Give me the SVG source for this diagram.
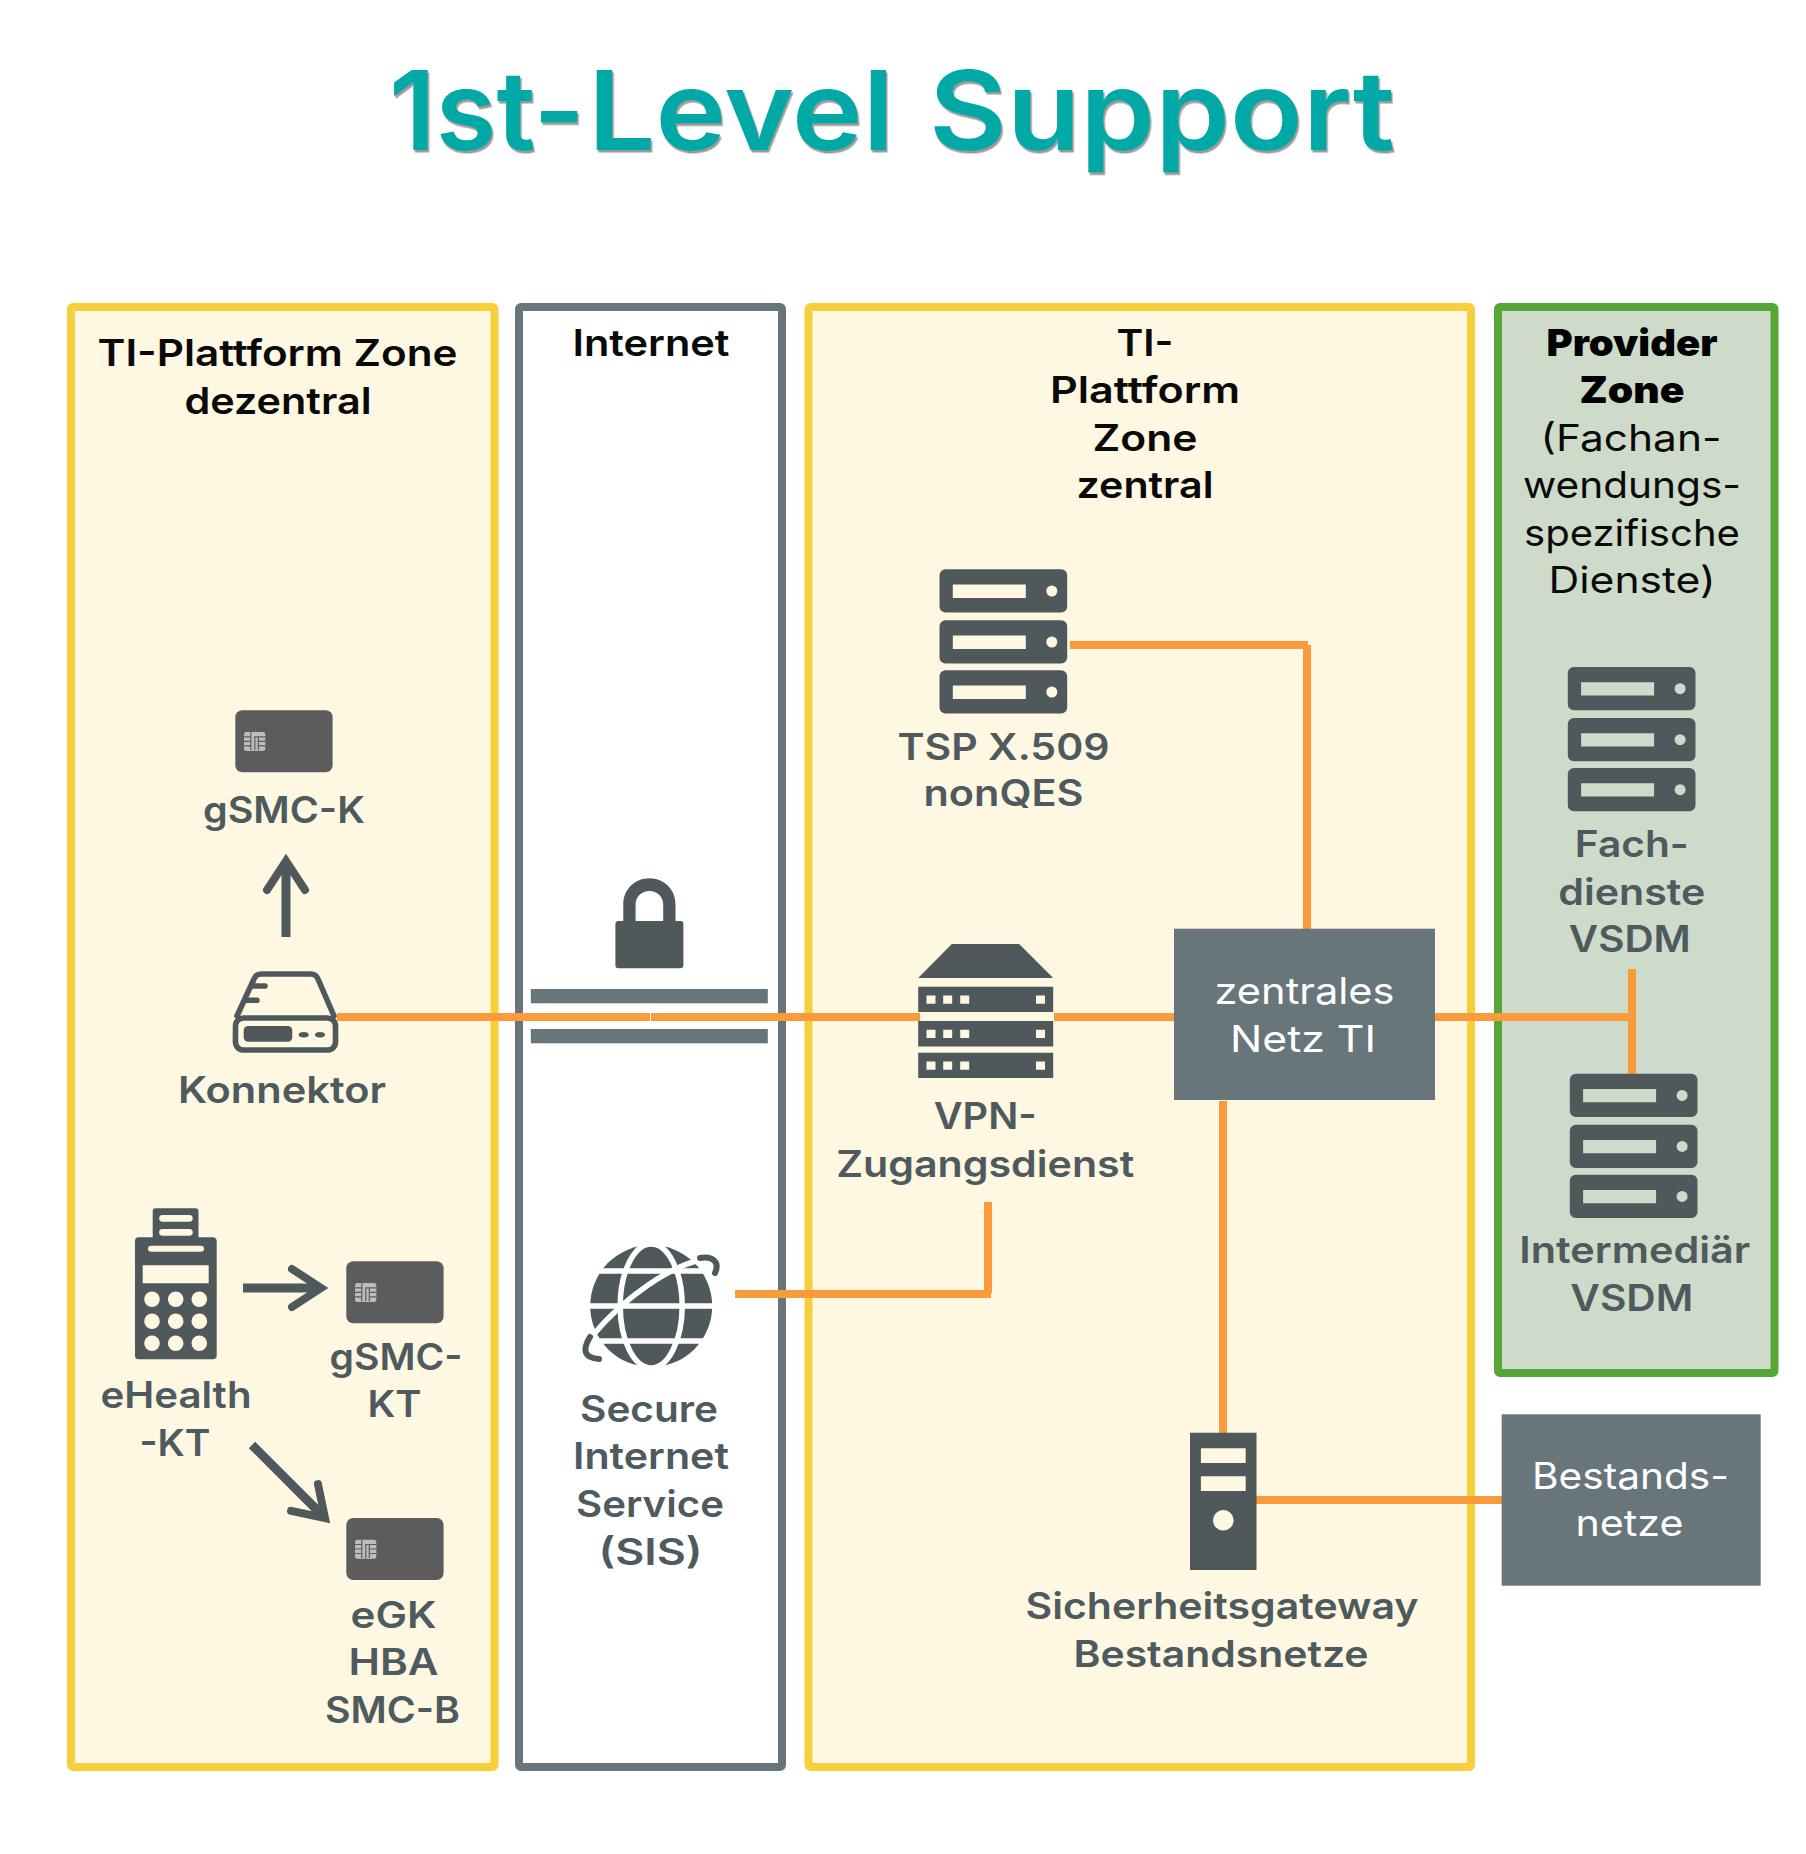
<svg xmlns="http://www.w3.org/2000/svg" xmlns:xlink="http://www.w3.org/1999/xlink" width="1806" height="1854" viewBox="0 0 1806 1854">
<style>
text{font-family:Inter,"Noto Sans","Liberation Sans",sans-serif;text-anchor:middle;}
.title{font-size:110px;font-weight:600;fill:#00A8A6;filter:url(#shadow);text-anchor:start;}
.hd{font-size:37px;font-weight:600;fill:#0a0a0a;}
.hb{font-size:37px;font-weight:900;fill:#000;}
.hn{font-size:37px;font-weight:400;fill:#0a0a0a;}
.lb{font-size:37px;font-weight:600;fill:#4F5A5E;}
.wt{font-size:37px;font-weight:400;fill:#fff;}
.panel{stroke-width:8;}
.pz{fill:#FEF7E1;stroke:#F7CF3A;}
.pi{fill:#fff;stroke:#68757A;}
.pp{fill:#CEDBCA;stroke:#57A737;}
.box{fill:#68757A;}
.dk{fill:#4F585B;}
.ol{fill:none;stroke:#F99B3A;stroke-width:8;}
.ar{fill:none;stroke:#4F585B;stroke-width:9;marker-end:url(#head);}
.card{fill:#5C5C5C;}
.chip{fill:#BDBDBD;}
.chl{fill:none;stroke:#5C5C5C;stroke-width:1.2;}
</style>
<defs>
<filter id="shadow" x="-5%" y="-5%" width="110%" height="115%"><feDropShadow dx="1.5" dy="2.5" stdDeviation="0" flood-color="#9a9a9a"/></filter>
<marker id="head" markerUnits="userSpaceOnUse" markerWidth="60" markerHeight="60" refX="40" refY="25" orient="auto" overflow="visible">
<path d="M11 6L40 25L11 44" fill="none" stroke="#4F585B" stroke-width="8" stroke-linecap="round"/>
</marker>
<path id="srvrow" fill-rule="evenodd" d="M6 0H121.7a6 6 0 0 1 6 6V37.3a6 6 0 0 1-6 6H6a6 6 0 0 1-6-6V6a6 6 0 0 1 6-6ZM13.3 15.3h73v13.3h-73ZM112.3 16.2a5.5 5.5 0 1 0 0 11a5.5 5.5 0 1 0 0-11Z"/>
<g id="server" class="dk"><use xlink:href="#srvrow"/><use xlink:href="#srvrow" y="51"/><use xlink:href="#srvrow" y="101"/></g>
<g id="smartcard">
<rect class="card" width="97.3" height="62" rx="7"/>
<rect class="chip" x="8.7" y="21.7" width="21.3" height="19" rx="2.5"/>
<path class="chl" d="M8.7 26.5h7M8.7 31h7M8.7 35.500h7M23.5 26.5h6.5M23.5 31h6.5M23.5 35.500h6.5M15.5 22v18M23 40V26.5h-3.500V40"/>
</g>
<path id="vpnrow" fill-rule="evenodd" d="M0 0H135V25.4H0ZM8.3 8.7h9v8.3h-9ZM25 8.7h9v8.3h-9ZM42 8.7h9v8.3h-9ZM117.8 8.7h9v8.3h-9Z"/>
</defs>

<g id="panels">
<g id="zone-dezentral"><rect class="panel pz" x="71" y="307" width="423.500" height="1460" rx="2"/>
<text class="hd" x="277.500" y="365.500" textLength="360" lengthAdjust="spacingAndGlyphs">TI-Plattform Zone</text>
<text class="hd" x="278" y="413.500" textLength="187" lengthAdjust="spacingAndGlyphs">dezentral</text></g>
<g id="zone-internet"><rect class="panel pi" x="519" y="307" width="263" height="1460" rx="2"/>
<text class="hd" x="651" y="355.500" textLength="157" lengthAdjust="spacingAndGlyphs">Internet</text></g>
<g id="zone-zentral"><rect class="panel pz" x="808.500" y="307" width="662.500" height="1460" rx="2"/>
<text class="hd" x="1145" y="355.500" textLength="57" lengthAdjust="spacingAndGlyphs">TI-</text>
<text class="hd" x="1145" y="402.500" textLength="190" lengthAdjust="spacingAndGlyphs">Plattform</text>
<text class="hd" x="1145" y="450.500" textLength="105" lengthAdjust="spacingAndGlyphs">Zone</text>
<text class="hd" x="1145" y="497.500" textLength="137" lengthAdjust="spacingAndGlyphs">zentral</text></g>
<g id="zone-provider"><rect class="panel pp" x="1498" y="307" width="276.500" height="1066" rx="2"/>
<text class="hb" x="1632" y="355.500" textLength="171" lengthAdjust="spacingAndGlyphs">Provider</text>
<text class="hb" x="1632" y="402.500" textLength="105" lengthAdjust="spacingAndGlyphs">Zone</text>
<text class="hn" x="1631" y="450.500" textLength="181" lengthAdjust="spacingAndGlyphs">(Fachan-</text>
<text class="hn" x="1632" y="497.500" textLength="218" lengthAdjust="spacingAndGlyphs">wendungs-</text>
<text class="hn" x="1632" y="545.500" textLength="216" lengthAdjust="spacingAndGlyphs">spezifische</text>
<text class="hn" x="1632" y="592.500" textLength="167" lengthAdjust="spacingAndGlyphs">Dienste)</text></g>
</g>

<text id="title" class="title" y="150"><tspan x="389" textLength="196" lengthAdjust="spacingAndGlyphs">1st-</tspan><tspan x="588" textLength="306" lengthAdjust="spacingAndGlyphs">Level</tspan> <tspan x="929" textLength="466" lengthAdjust="spacingAndGlyphs">Support</tspan></text>

<g id="connectors">
<path class="ol" d="M337 1017H650"/>
<path class="ol" d="M651 1017H920"/>
<path class="ol" d="M1054 1017H1174"/>
<path class="ol" d="M1435 1017H1632"/>
<path class="ol" d="M1632 969V1074"/>
<path class="ol" d="M1070 645H1308"/>
<path class="ol" d="M1307 645V929"/>
<path class="ol" d="M735 1294H991"/>
<path class="ol" d="M988 1202V1293"/>
<path class="ol" d="M1223 1101V1433"/>
<path class="ol" d="M1256 1500H1502"/>
<path class="ar" d="M286 937V861"/>
<path class="ar" d="M243 1288H321"/>
<path class="ar" d="M252 1445L325 1518"/>
</g>

<g id="gsmc-k"><use xlink:href="#smartcard" x="235.300" y="710.300"/>
<text class="lb" x="284" y="822.700" textLength="162" lengthAdjust="spacingAndGlyphs">gSMC-K</text></g>

<g id="konnektor">
<g fill="none" stroke="#4F585B" stroke-width="5.600" stroke-linecap="round" stroke-linejoin="round">
<rect x="235.500" y="1018" width="100" height="32" rx="8"/>
<path d="M237 1016L254 979Q256 974 261 974H311Q316 974 318 979L334 1016"/>
<path d="M252 986H265M247 1000.300H257"/>
</g>
<rect class="dk" x="243.700" y="1026" width="48.600" height="15.700" rx="4.500"/>
<ellipse class="dk" cx="303.700" cy="1034.700" rx="5" ry="2.800"/><ellipse class="dk" cx="320" cy="1034.700" rx="5" ry="2.800"/>
<text class="lb" x="282" y="1102.700" textLength="208" lengthAdjust="spacingAndGlyphs">Konnektor</text></g>

<g id="ehealth-kt">
<path class="dk" fill-rule="evenodd" d="M156 1208.300H195.500a3 3 0 0 1 3 3V1237.300H213a3.500 3.500 0 0 1 3.700 3.500V1355.800a3.500 3.500 0 0 1-3.700 3.500H138.500a3.500 3.500 0 0 1-3.500-3.500V1240.800a3.500 3.500 0 0 1 3.500-3.500H152.700V1211.300a3 3 0 0 1 3-3ZM162.500 1215a3.300 3.300 0 0 0 0 6.700H189.400a3.300 3.300 0 0 0 0-6.700ZM162.500 1229a3.300 3.300 0 0 0 0 6.700H189.400a3.300 3.300 0 0 0 0-6.700ZM151 1245.700a3 3 0 0 0 0 6H201a3 3 0 0 0 0-6ZM142.700 1265.300H208.700V1283.300H142.700ZM152 1291.500a7.800 7.800 0 1 0 0 15.600a7.800 7.800 0 1 0 0-15.600ZM175.700 1291.500a7.800 7.800 0 1 0 0 15.600a7.800 7.800 0 1 0 0-15.600ZM199.300 1291.500a7.800 7.800 0 1 0 0 15.600a7.800 7.800 0 1 0 0-15.600ZM152 1313.500a7.800 7.800 0 1 0 0 15.600a7.800 7.800 0 1 0 0-15.600ZM175.700 1313.500a7.800 7.800 0 1 0 0 15.600a7.800 7.800 0 1 0 0-15.600ZM199.300 1313.500a7.800 7.800 0 1 0 0 15.600a7.800 7.800 0 1 0 0-15.600ZM152 1335.500a7.800 7.800 0 1 0 0 15.600a7.800 7.800 0 1 0 0-15.600ZM175.700 1335.500a7.800 7.800 0 1 0 0 15.600a7.800 7.800 0 1 0 0-15.600ZM199.300 1335.500a7.800 7.800 0 1 0 0 15.600a7.800 7.800 0 1 0 0-15.600Z"/>
<text class="lb" x="176" y="1408" textLength="151" lengthAdjust="spacingAndGlyphs">eHealth</text>
<text class="lb" x="175" y="1456" textLength="71" lengthAdjust="spacingAndGlyphs">-KT</text></g>

<g id="gsmc-kt"><use xlink:href="#smartcard" x="346.300" y="1261.300"/>
<text class="lb" x="396" y="1369.500" textLength="133" lengthAdjust="spacingAndGlyphs">gSMC-</text>
<text class="lb" x="394.500" y="1416.500" textLength="54" lengthAdjust="spacingAndGlyphs">KT</text></g>

<g id="egk-hba-smcb"><use xlink:href="#smartcard" x="346.300" y="1518"/>
<text class="lb" x="393.500" y="1627.500" textLength="86" lengthAdjust="spacingAndGlyphs">eGK</text>
<text class="lb" x="393.500" y="1675" textLength="90" lengthAdjust="spacingAndGlyphs">HBA</text>
<text class="lb" x="392.500" y="1722.500" textLength="135" lengthAdjust="spacingAndGlyphs">SMC-B</text></g>

<g id="firewall">
<path class="dk" fill-rule="evenodd" d="M618.400 921H623.300V904.200C623.300 889.300 635 878.300 649.400 878.300C663.800 878.300 675.500 889.300 675.500 904.200V921H680.400a3 3 0 0 1 3 3V965.300a3 3 0 0 1-3 3H618.400a3 3 0 0 1-3-3V924a3 3 0 0 1 3-3ZM635.600 921H663.200V904.200C663.200 896.500 657 891 649.400 891C641.800 891 635.600 896.500 635.600 904.200Z"/>
<rect class="box" x="530.800" y="989" width="237" height="14.300"/>
<rect class="box" x="530.800" y="1029" width="237" height="14.300"/>
</g>

<g id="sis">
<circle class="dk" cx="651.200" cy="1306" r="61"/>
<g fill="none" stroke="#fff" stroke-width="5.500">
<path d="M585 1271H718M585 1306H718M585 1341H718"/>
<ellipse cx="651.200" cy="1306" rx="31" ry="62"/>
<path d="M593 1335C626 1296 670 1266 704 1259"/>
</g>
<g fill="none" stroke="#4F585B" stroke-width="6" stroke-linecap="round">
<path d="M590 1337C582 1350 584 1358 599 1359"/>
<path d="M700 1258C713 1256 720 1262 715 1273"/>
</g>
<text class="lb" x="649" y="1421.500" textLength="138" lengthAdjust="spacingAndGlyphs">Secure</text>
<text class="lb" x="651" y="1469" textLength="156" lengthAdjust="spacingAndGlyphs">Internet</text>
<text class="lb" x="650" y="1516.500" textLength="148" lengthAdjust="spacingAndGlyphs">Service</text>
<text class="lb" x="650.500" y="1565" textLength="104" lengthAdjust="spacingAndGlyphs">(SIS)</text></g>

<g id="vpn" transform="translate(-0.800,0)">
<path class="dk" d="M952.600 944H1020L1054 978H919Z"/>
<g class="dk"><use xlink:href="#vpnrow" x="919" y="986.700"/><use xlink:href="#vpnrow" x="919" y="1021"/><use xlink:href="#vpnrow" x="919" y="1052.700"/></g>
<text class="lb" x="986" y="1129" textLength="103" lengthAdjust="spacingAndGlyphs">VPN-</text>
<text class="lb" x="986" y="1176.700" textLength="298" lengthAdjust="spacingAndGlyphs">Zugangsdienst</text></g>

<g id="tsp" transform="translate(-0.500,0)"><use xlink:href="#server" x="940" y="569.300"/>
<text class="lb" x="1004" y="760" textLength="212" lengthAdjust="spacingAndGlyphs">TSP X.509</text>
<text class="lb" x="1004" y="806" textLength="160" lengthAdjust="spacingAndGlyphs">nonQES</text></g>

<g id="zentrales-netz" transform="translate(-1,0)"><rect class="box" x="1175" y="928.700" width="261" height="171.300"/>
<text class="wt" x="1305.500" y="1004" textLength="180" lengthAdjust="spacingAndGlyphs">zentrales</text>
<text class="wt" x="1304" y="1052" textLength="146" lengthAdjust="spacingAndGlyphs">Netz TI</text></g>

<g id="fachdienste" transform="translate(-1.200,0)"><use xlink:href="#server" x="1569" y="667"/>
<text class="lb" x="1633" y="856.500" textLength="114" lengthAdjust="spacingAndGlyphs">Fach-</text>
<text class="lb" x="1633" y="904.500" textLength="147" lengthAdjust="spacingAndGlyphs">dienste</text>
<text class="lb" x="1631" y="952" textLength="122" lengthAdjust="spacingAndGlyphs">VSDM</text></g>

<g id="intermediaer" transform="translate(-1.200,0)"><use xlink:href="#server" x="1571" y="1073.700"/>
<text class="lb" x="1636" y="1263" textLength="231" lengthAdjust="spacingAndGlyphs">Intermediär</text>
<text class="lb" x="1633" y="1310.700" textLength="123" lengthAdjust="spacingAndGlyphs">VSDM</text></g>

<g id="sicherheitsgateway" transform="translate(-1,0)">
<path class="dk" fill-rule="evenodd" d="M1191 1432.700H1257.500V1570H1191ZM1201.900 1448.300V1463H1246.700V1448.300ZM1201.900 1476.300V1491H1246.700V1476.300ZM1224.300 1510a10.300 10.300 0 1 0 0 20.600a10.300 10.300 0 1 0 0-20.600Z"/>
<text class="lb" x="1223" y="1618.500" textLength="393" lengthAdjust="spacingAndGlyphs">Sicherheitsgateway</text>
<text class="lb" x="1222" y="1666.700" textLength="295" lengthAdjust="spacingAndGlyphs">Bestandsnetze</text></g>

<g id="bestandsnetze" transform="translate(-1,0)"><rect class="box" x="1502.700" y="1414.300" width="259" height="171.400"/>
<text class="wt" x="1631.500" y="1489" textLength="197" lengthAdjust="spacingAndGlyphs">Bestands-</text>
<text class="wt" x="1630.500" y="1536" textLength="108" lengthAdjust="spacingAndGlyphs">netze</text></g>
</svg>
